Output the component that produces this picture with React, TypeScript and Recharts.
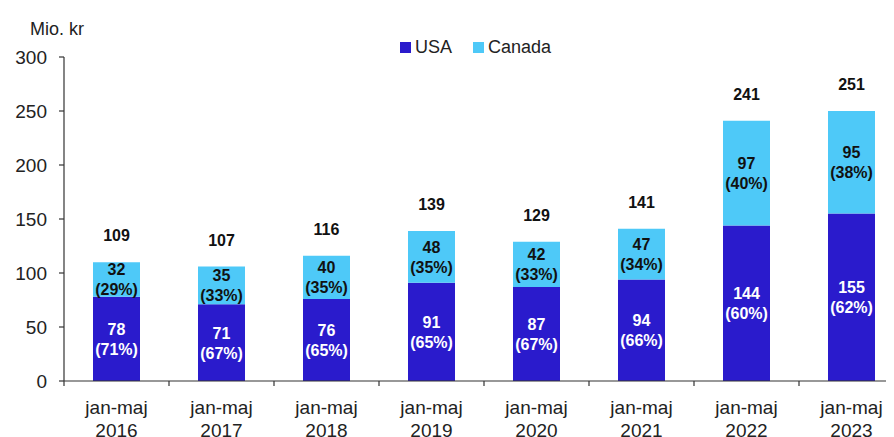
import React from 'react';
import { Bar, BarChart, LabelList, XAxis, YAxis } from 'recharts';

const years = ['2016', '2017', '2018', '2019', '2020', '2021', '2022', '2023'];
const usa = [78, 71, 76, 91, 87, 94, 144, 155];
const canada = [32, 35, 40, 48, 42, 47, 97, 95];
const usaPct = [71, 67, 65, 65, 67, 66, 60, 62];
const canadaPct = [29, 33, 35, 35, 33, 34, 40, 38];
const totals = [109, 107, 116, 139, 129, 141, 241, 251];
const yTicks = [0, 50, 100, 150, 200, 250, 300];
const seriesNames = ['USA', 'Canada'];

const USA_COLOR = '#2a1bcc';
const CANADA_COLOR = '#4ec9f8';
const FONT = '"Liberation Sans", Arial, sans-serif';
const BAND = 105;

const data = years.map((year, i) => ({
  name: `jan-maj|${year}`,
  usa: usa[i],
  canada: canada[i],
  usaLabel: `${usa[i]}|${usaPct[i]}`,
  canadaLabel: `${canada[i]}|${canadaPct[i]}`,
  total: totals[i],
}));

const SegmentLabel = (color: string) => (props: any) => {
  const { x, y, width, height, value } = props;
  const [v, p] = String(value).split('|');
  const cx = Number(x) + Number(width) / 2;
  const cy = Number(y) + Number(height) / 2;
  return (
    <text textAnchor="middle" fill={color} fontFamily={FONT} fontSize={16} fontWeight="bold">
      <tspan x={cx} y={cy - 4}>{v}</tspan>
      <tspan x={cx} y={cy + 16}>({p}%)</tspan>
    </text>
  );
};

const TotalLabel = (props: any) => {
  const { x, y, width, value } = props;
  return (
    <text x={Number(x) + Number(width) / 2} y={Number(y) - 21} textAnchor="middle" fill="#111" fontFamily={FONT} fontSize={16} fontWeight="bold">
      {value}
    </text>
  );
};

const XTick = (props: any) => {
  const { x, y, payload } = props;
  const [a, b] = String(payload.value).split('|');
  return (
    <g>
      <line x1={x - BAND / 2} x2={x - BAND / 2} y1={y - 5} y2={y} stroke="#333" strokeWidth={1.2} />
      <text textAnchor="middle" fill="#222" fontFamily={FONT} fontSize={19}>
        <tspan x={x} y={y + 28}>{a}</tspan>
        <tspan x={x} y={y + 51}>{b}</tspan>
      </text>
    </g>
  );
};

const colors = [USA_COLOR, CANADA_COLOR];

export default function App() {
  return (
    <div style={{ position: 'relative', width: 886, height: 429, overflow: 'hidden' }}>
      <div style={{ position: 'absolute', left: 22, top: 11, fontFamily: FONT, fontSize: 18, color: '#222' }}>
        Mio. kr
      </div>
      <div style={{ position: 'absolute', left: 392, top: 29, display: 'flex', alignItems: 'center', fontFamily: FONT, fontSize: 18, color: '#222' }}>
        {seriesNames.map((n, i) => (
          <React.Fragment key={n}>
            <span style={{ width: 11, height: 11, background: colors[i], marginRight: 4 }} />
            <span style={{ marginRight: 21 }}>{n}</span>
          </React.Fragment>
        ))}
      </div>
      <BarChart width={900} height={429} data={data} margin={{ top: 49, right: 4, left: 0, bottom: 0 }}>
        <XAxis
          dataKey="name"
          height={56}
          tickLine={false}
          tickSize={5}
          tickMargin={0}
          axisLine={{ stroke: '#333', strokeWidth: 1.2 }}
          tick={<XTick />}
          interval={0}
        />
        <YAxis
          width={56}
          domain={[0, 300]}
          ticks={yTicks}
          tickSize={5}
          tickMargin={12}
          axisLine={{ stroke: '#333', strokeWidth: 1.2 }}
          tickLine={{ stroke: '#333', strokeWidth: 1.2 }}
          tick={{ fill: '#222', fontFamily: FONT, fontSize: 19 }}
        />
        <Bar dataKey="usa" stackId="a" fill={USA_COLOR} barSize={47} isAnimationActive={false}>
          <LabelList dataKey="usaLabel" content={SegmentLabel('#fff')} />
        </Bar>
        <Bar dataKey="canada" stackId="a" fill={CANADA_COLOR} barSize={47} isAnimationActive={false}>
          <LabelList dataKey="canadaLabel" content={SegmentLabel('#111')} />
          <LabelList dataKey="total" content={TotalLabel} />
        </Bar>
      </BarChart>
    </div>
  );
}
